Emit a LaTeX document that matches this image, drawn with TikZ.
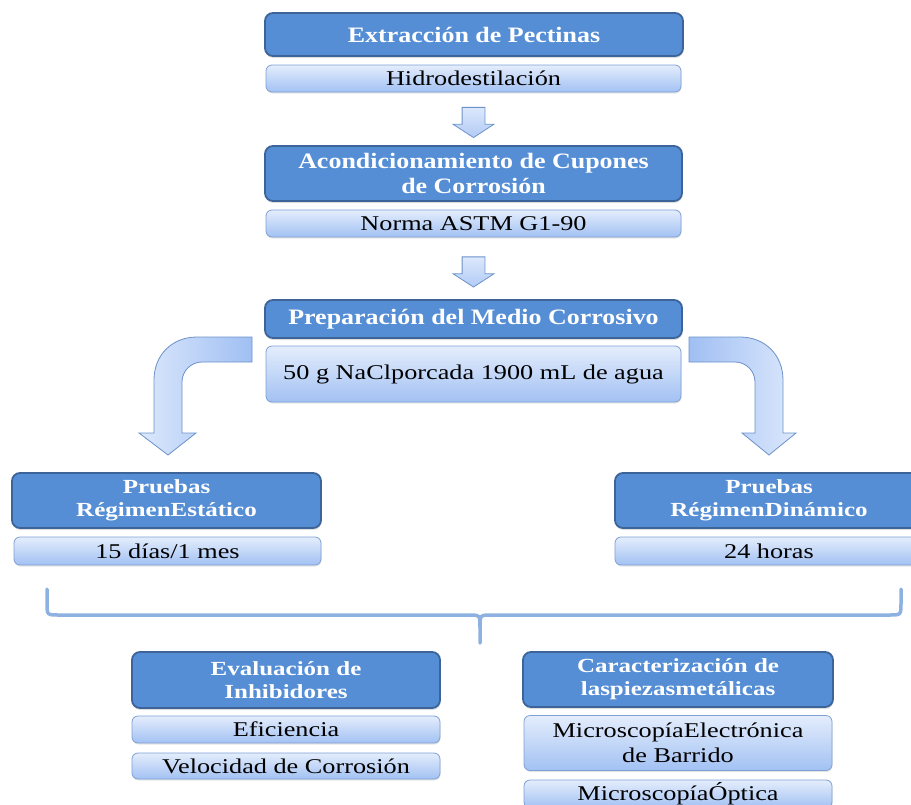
\documentclass[tikz,border=0pt]{standalone}
\usepackage{fontspec}
\setmainfont{Liberation Serif}[FakeStretch=1.25]
\newfontfamily\topfont{Liberation Serif}[FakeStretch=1.18]
\usepackage{tikz}
\usetikzlibrary{calc,shapes.arrows,shadows}
\definecolor{headfill}{RGB}{85,142,213}
\definecolor{headline}{RGB}{60,100,152}
\definecolor{subtop}{RGB}{228,237,252}
\definecolor{subbot}{RGB}{162,193,243}
\definecolor{subline}{RGB}{126,160,212}
\definecolor{arrlight}{RGB}{220,232,252}
\definecolor{arrdark}{RGB}{160,191,243}
\definecolor{arrline}{RGB}{108,146,200}
\definecolor{bracecol}{RGB}{141,177,225}

\begin{document}
\begin{tikzpicture}[x=1pt,y=-1pt,
  head/.style={draw=headline,line width=1.8pt,fill=headfill,rounded corners=8pt,
    text=white,font=\topfont\fontsize{22}{25.5}\selectfont\bfseries,align=center,inner sep=0pt,
    drop shadow={shadow xshift=0.5pt,shadow yshift=-2pt,opacity=.25}},
  smallhead/.style={head,font=\fontsize{20}{23}\selectfont\bfseries},
  sub/.style={draw=subline,line width=0.8pt,top color=subtop,bottom color=subbot,
    rounded corners=6pt,font=\fontsize{21}{25}\selectfont,align=center,inner sep=0pt,
    drop shadow={shadow xshift=0.5pt,shadow yshift=-1.5pt,opacity=.2}},
  downarrow/.style={single arrow,shape border rotate=270,draw=arrline,line width=0.8pt,
    top color=arrlight,bottom color=arrdark!70!arrlight,inner sep=11pt,minimum height=25pt,
    single arrow head extend=9pt,single arrow tip angle=114},
  bentarrow/.style={draw=arrline,line width=0.8pt},
  brace/.style={draw=bracecol,line width=3.5pt,line cap=round}]
  \useasboundingbox (0,0) rectangle (911,804);

  % upper column
  \node[head,minimum width=418pt,minimum height=43pt] (extr) at (474,34.5) {Extracción de Pectinas};
  \node[sub,minimum width=415pt,minimum height=27pt] (hidro) at (473.5,78.5) {Hidrodestilación};
  \node[head,minimum width=417pt,minimum height=55pt] (acond) at (473.5,173.5) {Acondicionamiento de Cupones\\de Corrosión};
  \node[sub,minimum width=415pt,minimum height=27pt] (norma) at (473.5,223.5) {Norma ASTM G1-90};
  \node[head,minimum width=417pt,minimum height=38pt] (prep) at (473.5,319) {Preparación del Medio Corrosivo};
  \node[sub,minimum width=415pt,minimum height=56pt] (nacl) at (473.5,374) {50 g NaClporcada 1900 mL de agua};

  \node[downarrow] (ar1) at ($(hidro.south)!0.5!(acond.north)$) {};
  \node[downarrow] (ar2) at ($(norma.south)!0.5!(prep.north)$) {};

  % bent arrows
  \path[bentarrow,left color=arrlight,right color=arrdark]
    (252,337) -- (197,337) .. controls (172,337) and (154,355) .. (154,380)
    -- (154,433) -- (139,433) -- (168,455) -- (196,433) -- (182,433) -- (182,382)
    .. controls (182,371) and (191,362) .. (202,362) -- (252,362) -- cycle;
  \path[bentarrow,left color=arrdark,right color=arrlight]
    (689,337) -- (740,337) .. controls (765,337) and (783,355) .. (783,380)
    -- (783,433) -- (796,433) -- (769,455) -- (742,433) -- (755,433) -- (755,382)
    .. controls (755,371) and (746,362) .. (735,362) -- (689,362) -- cycle;

  % tests
  \node[smallhead,minimum width=309pt,minimum height=55pt] (estat) at (166.5,500.5) {Pruebas\\RégimenEstático};
  \node[sub,minimum width=307pt,minimum height=28pt] (dias) at (167.5,551) {15 días/1 mes};
  \node[smallhead,minimum width=308pt,minimum height=55pt] (dinam) at (769,500.5) {Pruebas\\RégimenDinámico};
  \node[sub,minimum width=308pt,minimum height=28pt] (horas) at (769,551) {24 horas};

  % brace
  \path[brace] (47,589) -- (47,603) .. controls (47,615) .. (59,615) -- (468,615)
    .. controls (480,615) .. (480,627) -- (480,643);
  \path[brace] (901,589) -- (901,603) .. controls (901,615) .. (889,615) -- (492,615)
    .. controls (480,615) .. (480,627);

  % lower part
  \node[smallhead,minimum width=308pt,minimum height=56pt] (evalu) at (286,680) {Evaluación de\\Inhibidores};
  \node[sub,minimum width=308pt,minimum height=27pt] (efic) at (286,729.5) {Eficiencia};
  \node[sub,minimum width=308pt,minimum height=26pt] (veloc) at (286,766) {Velocidad de Corrosión};
  \node[smallhead,minimum width=310pt,minimum height=55pt] (carac) at (678,679.5) {Caracterización de\\laspiezasmetálicas};
  \node[sub,minimum width=308pt,minimum height=55pt] (meb) at (678,743) {MicroscopíaElectrónica\\de Barrido};
  \node[sub,minimum width=308pt,minimum height=28pt] (mopt) at (678,794) {MicroscopíaÓptica};
\end{tikzpicture}
\end{document}
